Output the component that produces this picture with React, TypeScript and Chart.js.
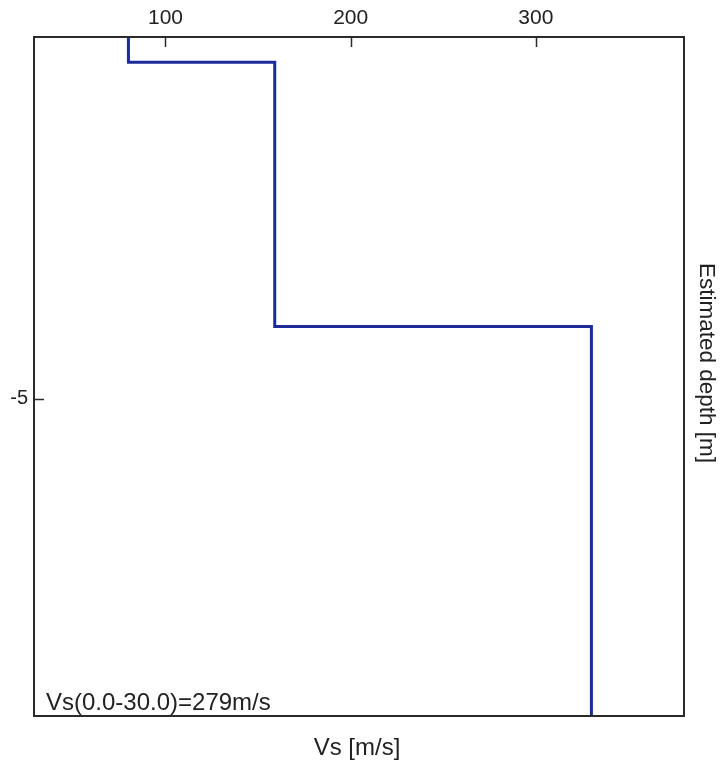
import React, { useEffect, useRef } from "react";
import { Chart, registerables } from "chart.js";

Chart.register(...registerables);

// Layer model
const layerVs = [80, 159, 330]; // m/s
const layerBoundaries = [0, 0.35, 4.0, 9.38]; // depth in m (top of each layer, last = bottom of plot)
const xTickValues = [100, 200, 300];
const yTickValues = [-5];
const xMin = 29;
const xMax = 380;
const annotationText = "Vs(0.0-30.0)=279m/s";
const xTitle = "Vs [m/s]";
const yTitle = "Estimated depth [m]";

const FONT = "'Liberation Sans', Arial, sans-serif";

function buildStepPoints() {
  const pts: { x: number; y: number }[] = [];
  for (let i = 0; i < layerVs.length; i++) {
    pts.push({ x: layerVs[i], y: -layerBoundaries[i] });
    pts.push({ x: layerVs[i], y: -layerBoundaries[i + 1] });
  }
  return pts;
}

const framePlugin = {
  id: "frame",
  afterDraw(chart: any) {
    const { ctx, chartArea } = chart;
    const { left, right, top, bottom } = chartArea;
    const xs = chart.scales.x;
    const ys = chart.scales.y;
    ctx.save();
    // border
    ctx.strokeStyle = "#2a2a2a";
    ctx.lineWidth = 2;
    ctx.strokeRect(left, top, right - left, bottom - top);
    // inner tick marks
    ctx.lineWidth = 1.5;
    ctx.beginPath();
    for (const v of xTickValues) {
      const px = Math.round(xs.getPixelForValue(v)) + 0.5;
      ctx.moveTo(px, top);
      ctx.lineTo(px, top + 10);
    }
    for (const v of yTickValues) {
      const py = Math.round(ys.getPixelForValue(v)) + 0.5;
      ctx.moveTo(left, py);
      ctx.lineTo(left + 10, py);
    }
    ctx.stroke();
    // annotation
    ctx.fillStyle = "#222";
    ctx.font = `24px ${FONT}`;
    ctx.textAlign = "left";
    ctx.textBaseline = "bottom";
    ctx.fillText(annotationText, left + 12, bottom - 1);
    // x title (bottom)
    ctx.textAlign = "center";
    ctx.textBaseline = "middle";
    ctx.fillText(xTitle, 357, 748);
    // y title (right, rotated clockwise)
    ctx.font = `22.5px ${FONT}`;
    ctx.translate(706, 363);
    ctx.rotate(Math.PI / 2);
    ctx.fillText(yTitle, 0, 0);
    ctx.restore();
  },
};

export default function App() {
  const canvasRef = useRef<HTMLCanvasElement | null>(null);

  useEffect(() => {
    if (!canvasRef.current) return;
    const chart = new Chart(canvasRef.current, {
      type: "scatter",
      data: {
        datasets: [
          {
            data: buildStepPoints(),
            showLine: true,
            borderColor: "#1c2a9a",
            borderWidth: 3,
            pointRadius: 0,
            fill: false,
            tension: 0,
          },
        ],
      },
      options: {
        responsive: false,
        animation: false,
        devicePixelRatio: 1,
        layout: { padding: { left: 0, top: 0, right: 40, bottom: 57 } },
        plugins: {
          legend: { display: false },
          tooltip: { enabled: false },
        },
        scales: {
          x: {
            type: "linear",
            position: "top",
            min: xMin,
            max: xMax,
            afterBuildTicks: (scale: any) => {
              scale.ticks = xTickValues.map((v) => ({ value: v }));
            },
            afterFit: (scale: any) => {
              scale.height = 37;
            },
            grid: { display: false, drawTicks: false },
            border: { display: false },
            ticks: {
              color: "#222",
              padding: 6,
              maxRotation: 0,
              font: { family: FONT, size: 21 },
              callback: (v: any) => String(v),
            },
          },
          y: {
            type: "linear",
            position: "left",
            min: -layerBoundaries[layerBoundaries.length - 1],
            max: 0,
            afterBuildTicks: (scale: any) => {
              scale.ticks = yTickValues.map((v) => ({ value: v }));
            },
            afterFit: (scale: any) => {
              scale.width = 34;
            },
            grid: { display: false, drawTicks: false },
            border: { display: false },
            ticks: {
              color: "#222",
              padding: 6,
              font: { family: FONT, size: 20 },
              callback: (v: any) => String(v),
            },
          },
        },
      },
      plugins: [framePlugin],
    });
    return () => chart.destroy();
  }, []);

  return (
    <div style={{ position: "fixed", left: 0, top: 0, width: 724, height: 773, background: "#fff" }}>
      <canvas ref={canvasRef} width={724} height={773} />
    </div>
  );
}
